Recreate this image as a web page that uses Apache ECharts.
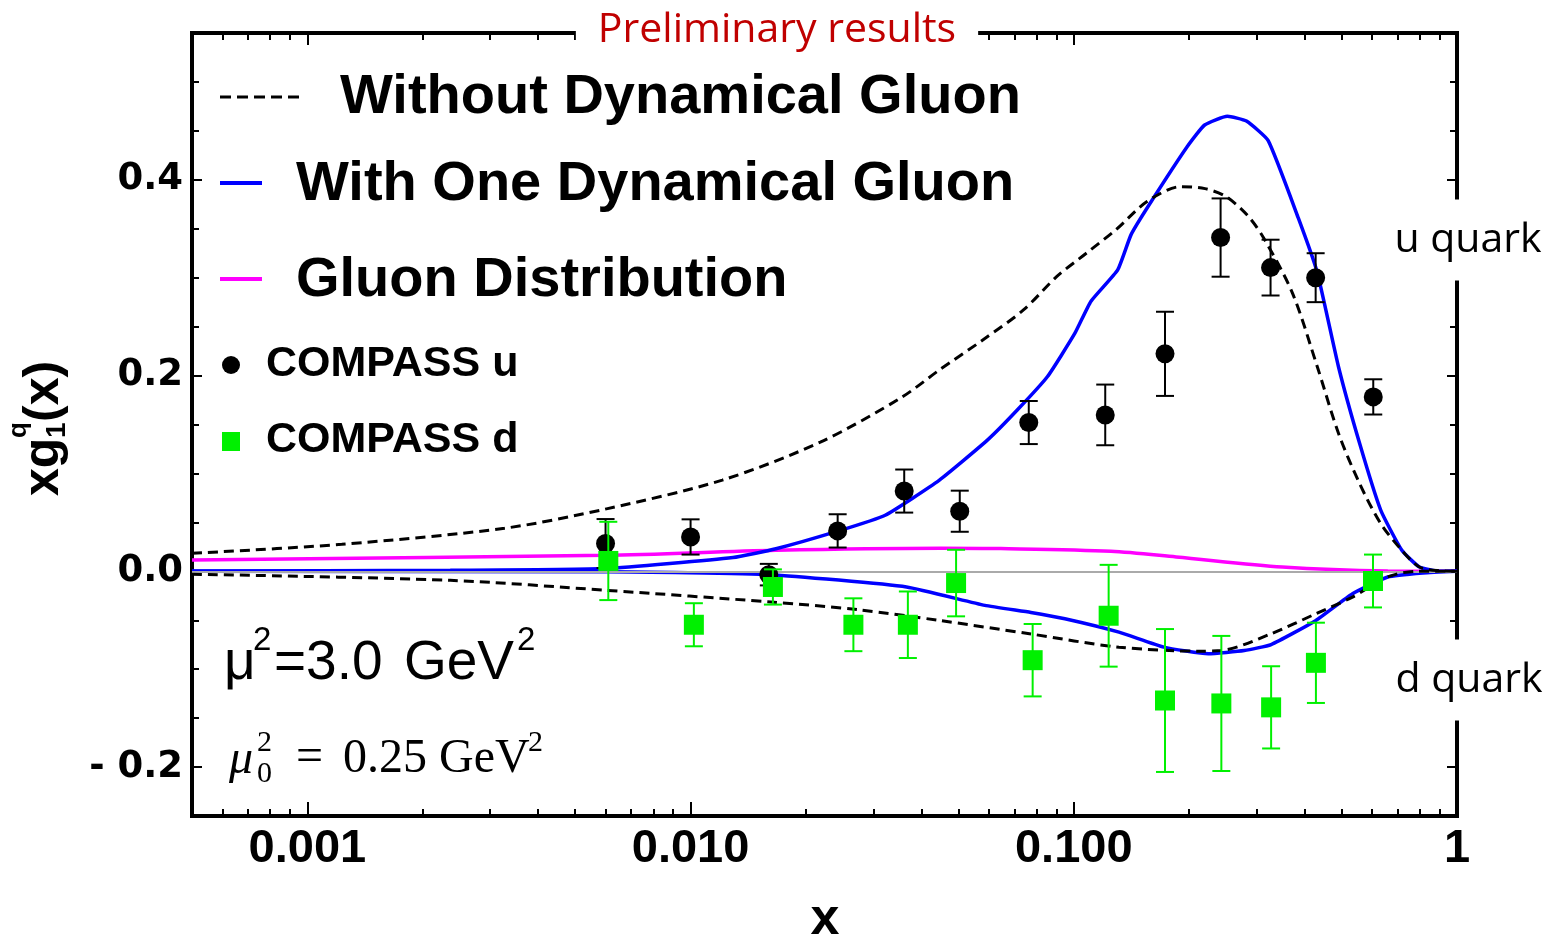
<!DOCTYPE html>
<html>
<head>
<meta charset="utf-8">
<script src="https://cdn.jsdelivr.net/npm/echarts@6/dist/echarts.min.js"></script>
<style>
html,body{margin:0;padding:0;background:#fff}
#main{width:1550px;height:941px}
</style>
</head>
<body>
<div id="main"></div>
<script>
// x axis ticks
var majorTicks = [0.001, 0.01, 0.1, 1];
var minorTicks = [0.0006, 0.0007, 0.0008, 0.0009,
  0.002, 0.003, 0.004, 0.005, 0.006, 0.007, 0.008, 0.009,
  0.02, 0.03, 0.04, 0.05, 0.06, 0.07, 0.08, 0.09,
  0.2, 0.3, 0.4, 0.5, 0.6, 0.7, 0.8, 0.9];
var yLabelTicks = [-0.2, 0, 0.2, 0.4];

// without dynamical gluon (dashed), u quark
var noGluonUX = [0.0005, 0.00123, 0.00327, 0.00603, 0.0121, 0.0218, 0.0353, 0.0447, 0.0580, 0.0739, 0.0902, 0.1078, 0.1288, 0.1556, 0.1900, 0.2200, 0.2493, 0.2850, 0.3146, 0.3723, 0.432, 0.4906, 0.5567, 0.6323, 0.7179, 0.798, 0.9, 1.0];
var noGluonUY = [0.0184, 0.0276, 0.044, 0.0638, 0.0932, 0.132, 0.177, 0.206, 0.2366, 0.267, 0.301, 0.325, 0.349, 0.378, 0.393, 0.391, 0.383, 0.363, 0.339, 0.284, 0.209, 0.141, 0.0898, 0.0488, 0.0215, 0.0044, 0.0005, 0];

// with one dynamical gluon (blue), u quark
var gluonUX = [0.0005, 0.00236, 0.00603, 0.0129, 0.0167, 0.0242, 0.0322, 0.0446, 0.0595, 0.0713, 0.0854, 0.1006, 0.1109, 0.1302, 0.1411, 0.1576, 0.1978, 0.2195, 0.2516, 0.2822, 0.3216, 0.3853, 0.432, 0.4906, 0.5567, 0.6323, 0.7179, 0.798, 0.905, 1.0];
var gluonUY = [0.0003, 0.001, 0.0028, 0.014, 0.023, 0.041, 0.0573, 0.0932, 0.134, 0.165, 0.199, 0.243, 0.276, 0.308, 0.344, 0.375, 0.434, 0.456, 0.465, 0.460, 0.440, 0.361, 0.305, 0.209, 0.131, 0.0625, 0.0215, 0.0044, 0.0, 0];

// gluon distribution
var gluonDistX = [0.0005, 0.006, 0.0167, 0.045, 0.0645, 0.125, 0.185, 0.35, 0.66, 1.0];
var gluonDistY = [0.0115, 0.0164, 0.0215, 0.0236, 0.0232, 0.0205, 0.0147, 0.0044, 0.0003, 0];

// without dynamical gluon (dashed), d quark
var noGluonDX = [0.0005, 0.00236, 0.00608, 0.0162, 0.0273, 0.0446, 0.0766, 0.1312, 0.2126, 0.2434, 0.3273, 0.4284, 0.5337, 0.6595, 0.781, 1.0];
var noGluonDY = [-0.003, -0.0092, -0.0195, -0.0314, -0.0392, -0.0502, -0.0638, -0.0775, -0.0816, -0.0809, -0.0638, -0.0433, -0.0263, -0.0058, 0, 0];

// with one dynamical gluon (blue), d quark
var gluonDX = [0.0005, 0.00603, 0.0162, 0.0366, 0.0586, 0.0773, 0.0948, 0.1312, 0.1717, 0.2244, 0.2785, 0.3273, 0.4284, 0.5337, 0.6595, 0.815, 1.0];
var gluonDY = [0.0, -0.0005, -0.0034, -0.016, -0.0348, -0.042, -0.0485, -0.0622, -0.0775, -0.0843, -0.0809, -0.0748, -0.0502, -0.0229, -0.0058, -0.0017, 0];

// COMPASS u
var compassUX = [0.0060, 0.0100, 0.0160, 0.0242, 0.0361, 0.0504, 0.0763, 0.1208, 0.1730, 0.2416, 0.3262, 0.4277, 0.6046];
var compassUY = [0.0284, 0.0351, -0.0034, 0.0413, 0.082, 0.0614, 0.152, 0.1598, 0.2222, 0.341, 0.3103, 0.300, 0.1782];
var compassUErr = [0.025, 0.018, 0.011, 0.017, 0.022, 0.021, 0.022, 0.031, 0.043, 0.040, 0.0285, 0.025, 0.018];

// COMPASS d
var compassDX = [0.0061, 0.0102, 0.0164, 0.0266, 0.0369, 0.0493, 0.0781, 0.1233, 0.1730, 0.2427, 0.3273, 0.4284, 0.6036];
var compassDY = [0.0106, -0.0546, -0.016, -0.0546, -0.0546, -0.012, -0.0908, -0.0454, -0.132, -0.135, -0.139, -0.0935, -0.0099];
var compassDErr = [0.040, 0.022, 0.018, 0.027, 0.034, 0.034, 0.037, 0.052, 0.073, 0.069, 0.042, 0.041, 0.027];

var GREEN = '#00f000';

function pairs(xs, ys) {
  return xs.map(function (x, i) { return [x, ys[i]]; });
}
function triples(xs, ys, es) {
  return xs.map(function (x, i) { return [x, ys[i], es[i]]; });
}

function curve(name, xs, ys, color, dashed, z) {
  return {
    type: 'line', name: name, data: pairs(xs, ys),
    symbol: 'none', smooth: dashed ? 0.3 : 0.15, z: z,
    lineStyle: { color: color, width: dashed ? 3 : 3.5, type: dashed ? [10, 6] : 'solid' }
  };
}

function errBars(name, xs, ys, es, color, z) {
  return {
    type: 'custom', name: name, z: z,
    data: triples(xs, ys, es),
    renderItem: function (params, api) {
      var x = api.value(0), y = api.value(1), e = api.value(2);
      var top = api.coord([x, y + e]);
      var bot = api.coord([x, y - e]);
      var hw = 9;
      var st = { stroke: color, lineWidth: 2 };
      return {
        type: 'group',
        children: [
          { type: 'line', shape: { x1: top[0], y1: top[1], x2: bot[0], y2: bot[1] }, style: st },
          { type: 'line', shape: { x1: top[0] - hw, y1: top[1], x2: top[0] + hw, y2: top[1] }, style: st },
          { type: 'line', shape: { x1: bot[0] - hw, y1: bot[1], x2: bot[0] + hw, y2: bot[1] }, style: st }
        ]
      };
    },
    encode: { x: 0, y: 1 }
  };
}

function xAx(pos, ticks, len, labels) {
  return {
    type: 'log', logBase: 10, min: 0.0005, max: 1, position: pos,
    axisLine: { show: false, onZero: false }, splitLine: { show: false },
    axisTick: { show: true, inside: true, length: len, customValues: ticks,
      lineStyle: { color: '#000', width: 2 } },
    axisLabel: labels ? {
      show: true, customValues: majorTicks, margin: 10,
      fontFamily: 'Liberation Sans', fontWeight: 'bold', fontSize: 47, color: '#000',
      formatter: function (v) { return v >= 1 ? '1' : v.toFixed(3); }
    } : { show: false }
  };
}

function yAx(pos, major, labels) {
  var a = {
    type: 'value', min: -0.25, max: 0.55, position: pos,
    axisLine: { show: false, onZero: false }, splitLine: { show: false },
    axisTick: { show: true, inside: true, length: major ? 10 : 7,
      lineStyle: { color: '#000', width: 2 } },
    axisLabel: { show: false }
  };
  if (major) {
    a.axisTick.customValues = yLabelTicks;
  } else {
    a.interval = 0.05;
  }
  if (labels) {
    a.axisLabel = {
      show: true, customValues: yLabelTicks, margin: 9,
      fontFamily: 'DejaVu Sans', fontWeight: 'bold', fontSize: 37, color: '#000',
      formatter: function (v) {
        if (Math.abs(v) < 1e-9) return '0.0';
        if (v < 0) return '- ' + (-v).toFixed(1);
        return v.toFixed(1);
      }
    };
  }
  return a;
}

function txt(x, y, text, size, opts) {
  opts = opts || {};
  return {
    type: 'text', x: x, y: y, z: 100,
    style: {
      text: text, fontSize: size,
      fontFamily: opts.family || 'Liberation Sans',
      fontWeight: opts.weight || 'normal',
      fontStyle: opts.style || 'normal',
      fill: opts.color || '#000',
      align: opts.align || 'left', textAlign: opts.align || 'left',
      verticalAlign: 'middle', textVerticalAlign: 'middle',
      backgroundColor: opts.bg, padding: opts.padding
    }
  };
}

var chart = echarts.init(document.getElementById('main'));

var option = {
  animation: false,
  backgroundColor: '#fff',
  grid: { left: 192, right: 93, top: 33, bottom: 125, show: true,
    borderColor: '#000', borderWidth: 4, backgroundColor: 'transparent' },
  xAxis: [
    xAx('bottom', majorTicks, 14, true),
    xAx('bottom', minorTicks, 7, false),
    xAx('top', majorTicks, 12, false),
    xAx('top', minorTicks, 7, false)
  ],
  yAxis: [
    yAx('left', true, true),
    yAx('left', false, false),
    yAx('right', true, false),
    yAx('right', false, false)
  ],
  series: [
    {
      type: 'line', name: 'Gluon Distribution', data: pairs(gluonDistX, gluonDistY),
      symbol: 'none', smooth: 0.3, z: 3,
      lineStyle: { color: '#ff00ff', width: 3.5 },
      markLine: {
        silent: true, symbol: 'none', label: { show: false },
        lineStyle: { color: '#aaaaaa', width: 2, type: 'solid' },
        data: [{ yAxis: 0 }]
      }
    },
    curve('With One Dynamical Gluon u', gluonUX, gluonUY, '#0000ff', false, 4),
    curve('With One Dynamical Gluon d', gluonDX, gluonDY, '#0000ff', false, 4),
    curve('Without Dynamical Gluon u', noGluonUX, noGluonUY, '#000', true, 5),
    curve('Without Dynamical Gluon d', noGluonDX, noGluonDY, '#000', true, 5),
    errBars('COMPASS u error', compassUX, compassUY, compassUErr, '#000', 6),
    {
      type: 'scatter', name: 'COMPASS u', data: pairs(compassUX, compassUY),
      symbol: 'circle', symbolSize: 19, z: 7,
      itemStyle: { color: '#000', opacity: 1 }
    },
    errBars('COMPASS d error', compassDX, compassDY, compassDErr, GREEN, 8),
    {
      type: 'scatter', name: 'COMPASS d', data: pairs(compassDX, compassDY),
      symbol: 'rect', symbolSize: 20, z: 9,
      itemStyle: { color: GREEN, opacity: 1 }
    }
  ],
  graphic: []
};

var g = option.graphic;
// title over frame
g.push(txt(777, 30, 'Preliminary results', 41, { family: 'Open Sans', color: '#c00000', align: 'center', bg: '#fff', padding: [4, 22] }));
// side labels
g.push(txt(1468, 240, 'u quark', 41, { family: 'Open Sans', align: 'center', bg: '#fff', padding: [20, 4] }));
g.push(txt(1469, 680, 'd quark', 41, { family: 'Open Sans', align: 'center', bg: '#fff', padding: [20, 4] }));

// legend
g.push({ type: 'line', z: 100, shape: { x1: 220, y1: 97, x2: 304, y2: 97 },
  style: { stroke: '#000', lineWidth: 3, lineDash: [11, 6] } });
g.push(txt(340, 98, 'Without Dynamical Gluon', 56, { weight: 'bold' }));
g.push({ type: 'line', z: 100, shape: { x1: 220, y1: 183, x2: 262, y2: 183 },
  style: { stroke: '#0000ff', lineWidth: 4 } });
g.push(txt(296, 185, 'With One Dynamical Gluon', 56, { weight: 'bold' }));
g.push({ type: 'line', z: 100, shape: { x1: 220, y1: 279, x2: 262, y2: 279 },
  style: { stroke: '#ff00ff', lineWidth: 4 } });
g.push(txt(296, 281, 'Gluon Distribution', 56, { weight: 'bold' }));
g.push({ type: 'circle', z: 100, shape: { cx: 231, cy: 365, r: 9 }, style: { fill: '#000' } });
g.push(txt(266, 364, 'COMPASS u', 43, { weight: 'bold' }));
g.push({ type: 'rect', z: 100, shape: { x: 222, y: 432, width: 18, height: 19 }, style: { fill: GREEN } });
g.push(txt(266, 440, 'COMPASS d', 43, { weight: 'bold' }));

// scale annotations
g.push(txt(224, 664, 'μ', 55));
g.push(txt(253, 641, '2', 33));
g.push(txt(274, 664, '=3.0', 55));
g.push(txt(404, 664, 'GeV', 55));
g.push(txt(517, 641, '2', 33));

g.push(txt(229, 760, 'μ', 48, { family: 'Liberation Serif', style: 'italic' }));
g.push(txt(257, 743, '2', 30, { family: 'Liberation Serif' }));
g.push(txt(257, 774, '0', 30, { family: 'Liberation Serif' }));
g.push(txt(296, 758, '=', 48, { family: 'Liberation Serif' }));
g.push(txt(343, 759, '0.25 GeV', 48, { family: 'Liberation Serif' }));
g.push(txt(528, 743, '2', 30, { family: 'Liberation Serif' }));

// axis titles
g.push(txt(825, 920, 'x', 52, { weight: 'bold', align: 'center' }));
g.push({
  type: 'group', x: 44, y: 428, rotation: Math.PI / 2, z: 100,
  children: [
    txt(-68, 0, 'xg', 50, { weight: 'bold' }),
    txt(-10, -25, 'q', 26, { weight: 'bold' }),
    txt(-10, 13, '1', 28, { weight: 'bold' }),
    txt(6, 0, '(x)', 50, { weight: 'bold' })
  ]
});

chart.setOption(option);
</script>
</body>
</html>
